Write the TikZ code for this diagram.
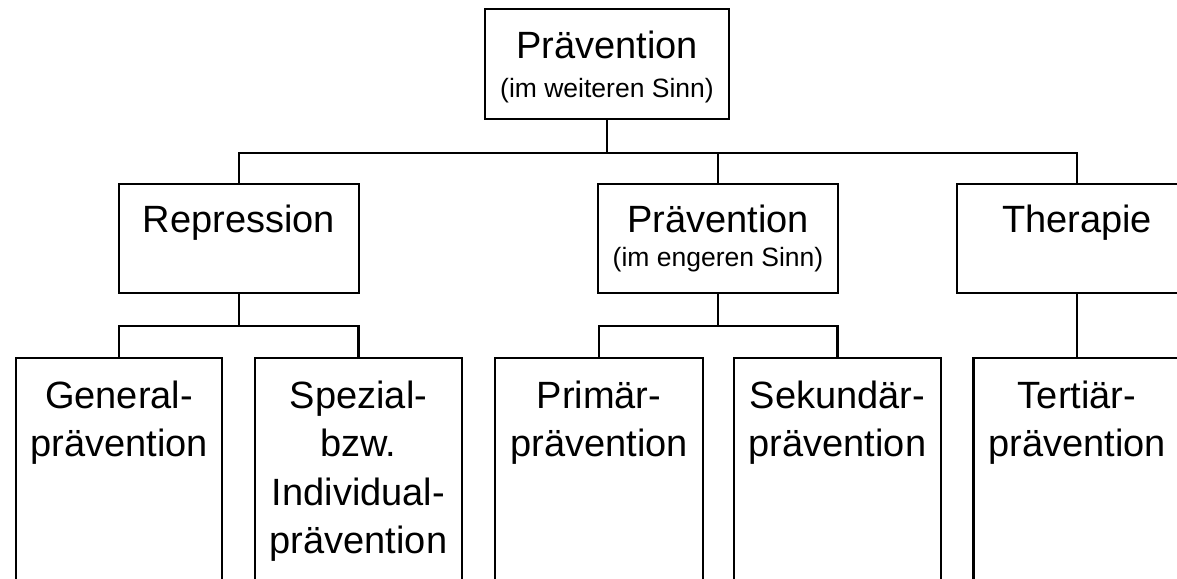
\documentclass[tikz,border=0pt]{standalone}
\usepackage{fontspec}
\setmainfont{Liberation Sans}
\begin{document}
\begin{tikzpicture}[x=1pt,y=-1pt,
  box/.style={draw, line width=2.5pt, rectangle, inner sep=0pt, minimum width=#1},
  txt/.style={anchor=base, inner sep=0pt, align=center, font=\fontsize{38}{38}\selectfont},
  small/.style={anchor=base, inner sep=0pt, font=\fontsize{26.5}{26.5}\selectfont},
  conn/.style={line width=2.5pt}]
\useasboundingbox (0,0) rectangle (1177,578);
\clip (0,0) rectangle (1177,578);
% level 0
\node[box=244pt, minimum height=110pt] (top) at (607,64) {};
% level 1
\node[box=240pt, minimum height=109pt] (rep) at (239,238.5) {};
\node[box=240pt, minimum height=109pt] (mid) at (718,238.5) {};
\node[box=240pt, minimum height=109pt] (ther) at (1077,238.5) {};
% level 2 (run off the lower edge)
\node[box=206pt, minimum height=300pt] (gen) at (119,508) {};
\node[box=207pt, minimum height=300pt] (spez) at (358.5,508) {};
\node[box=208pt, minimum height=300pt] (prim) at (599,508) {};
\node[box=207pt, minimum height=300pt] (sek) at (837.5,508) {};
\node[box=207pt, minimum height=300pt] (tert) at (1077,508) {};
% texts
\node[txt] (topa) at (607,59) {Prävention};
\node[small] (topb) at (607,97) {(im weiteren Sinn)};
\node[txt] (repa) at (239,232) {Repression};
\node[txt] (mida) at (718,232) {Prävention};
\node[small] (midb) at (718,266) {(im engeren Sinn)};
\node[txt] (thera) at (1077,232) {Therapie};
\node[txt] (gena) at (119,408) {General-};
\node[txt] (genb) at (119,456) {prävention};
\node[txt] (speza) at (358.5,408) {Spezial-};
\node[txt] (spezb) at (358.5,456) {bzw.};
\node[txt] (spezc) at (358.5,505) {Individual-};
\node[txt] (spezd) at (358.5,553) {prävention};
\node[txt] (prima) at (599,408) {Primär-};
\node[txt] (primb) at (599,456) {prävention};
\node[txt] (seka) at (837.5,408) {Sekundär-};
\node[txt] (sekb) at (837.5,456) {prävention};
\node[txt] (terta) at (1077,408) {Tertiär-};
\node[txt] (tertb) at (1077,456) {prävention};
% junctions
\coordinate (j0) at (607,153);
\coordinate (j1) at (239,326);
\coordinate (j2) at (718,326);
% connectors
\draw[conn] (top.south) -- (j0);
\draw[conn] (rep.north) |- (ther.north |- j0) -- (ther.north);
\draw[conn] (mid.north) -- (mid.north |- j0);
\draw[conn] (rep.south) -- (j1);
\draw[conn] (gen.north) |- (spez.north |- j1) -- (spez.north);
\draw[conn] (mid.south) -- (j2);
\draw[conn] (prim.north) |- (sek.north |- j2) -- (sek.north);
\draw[conn] (ther.south) -- (tert.north);
\end{tikzpicture}
\end{document}
